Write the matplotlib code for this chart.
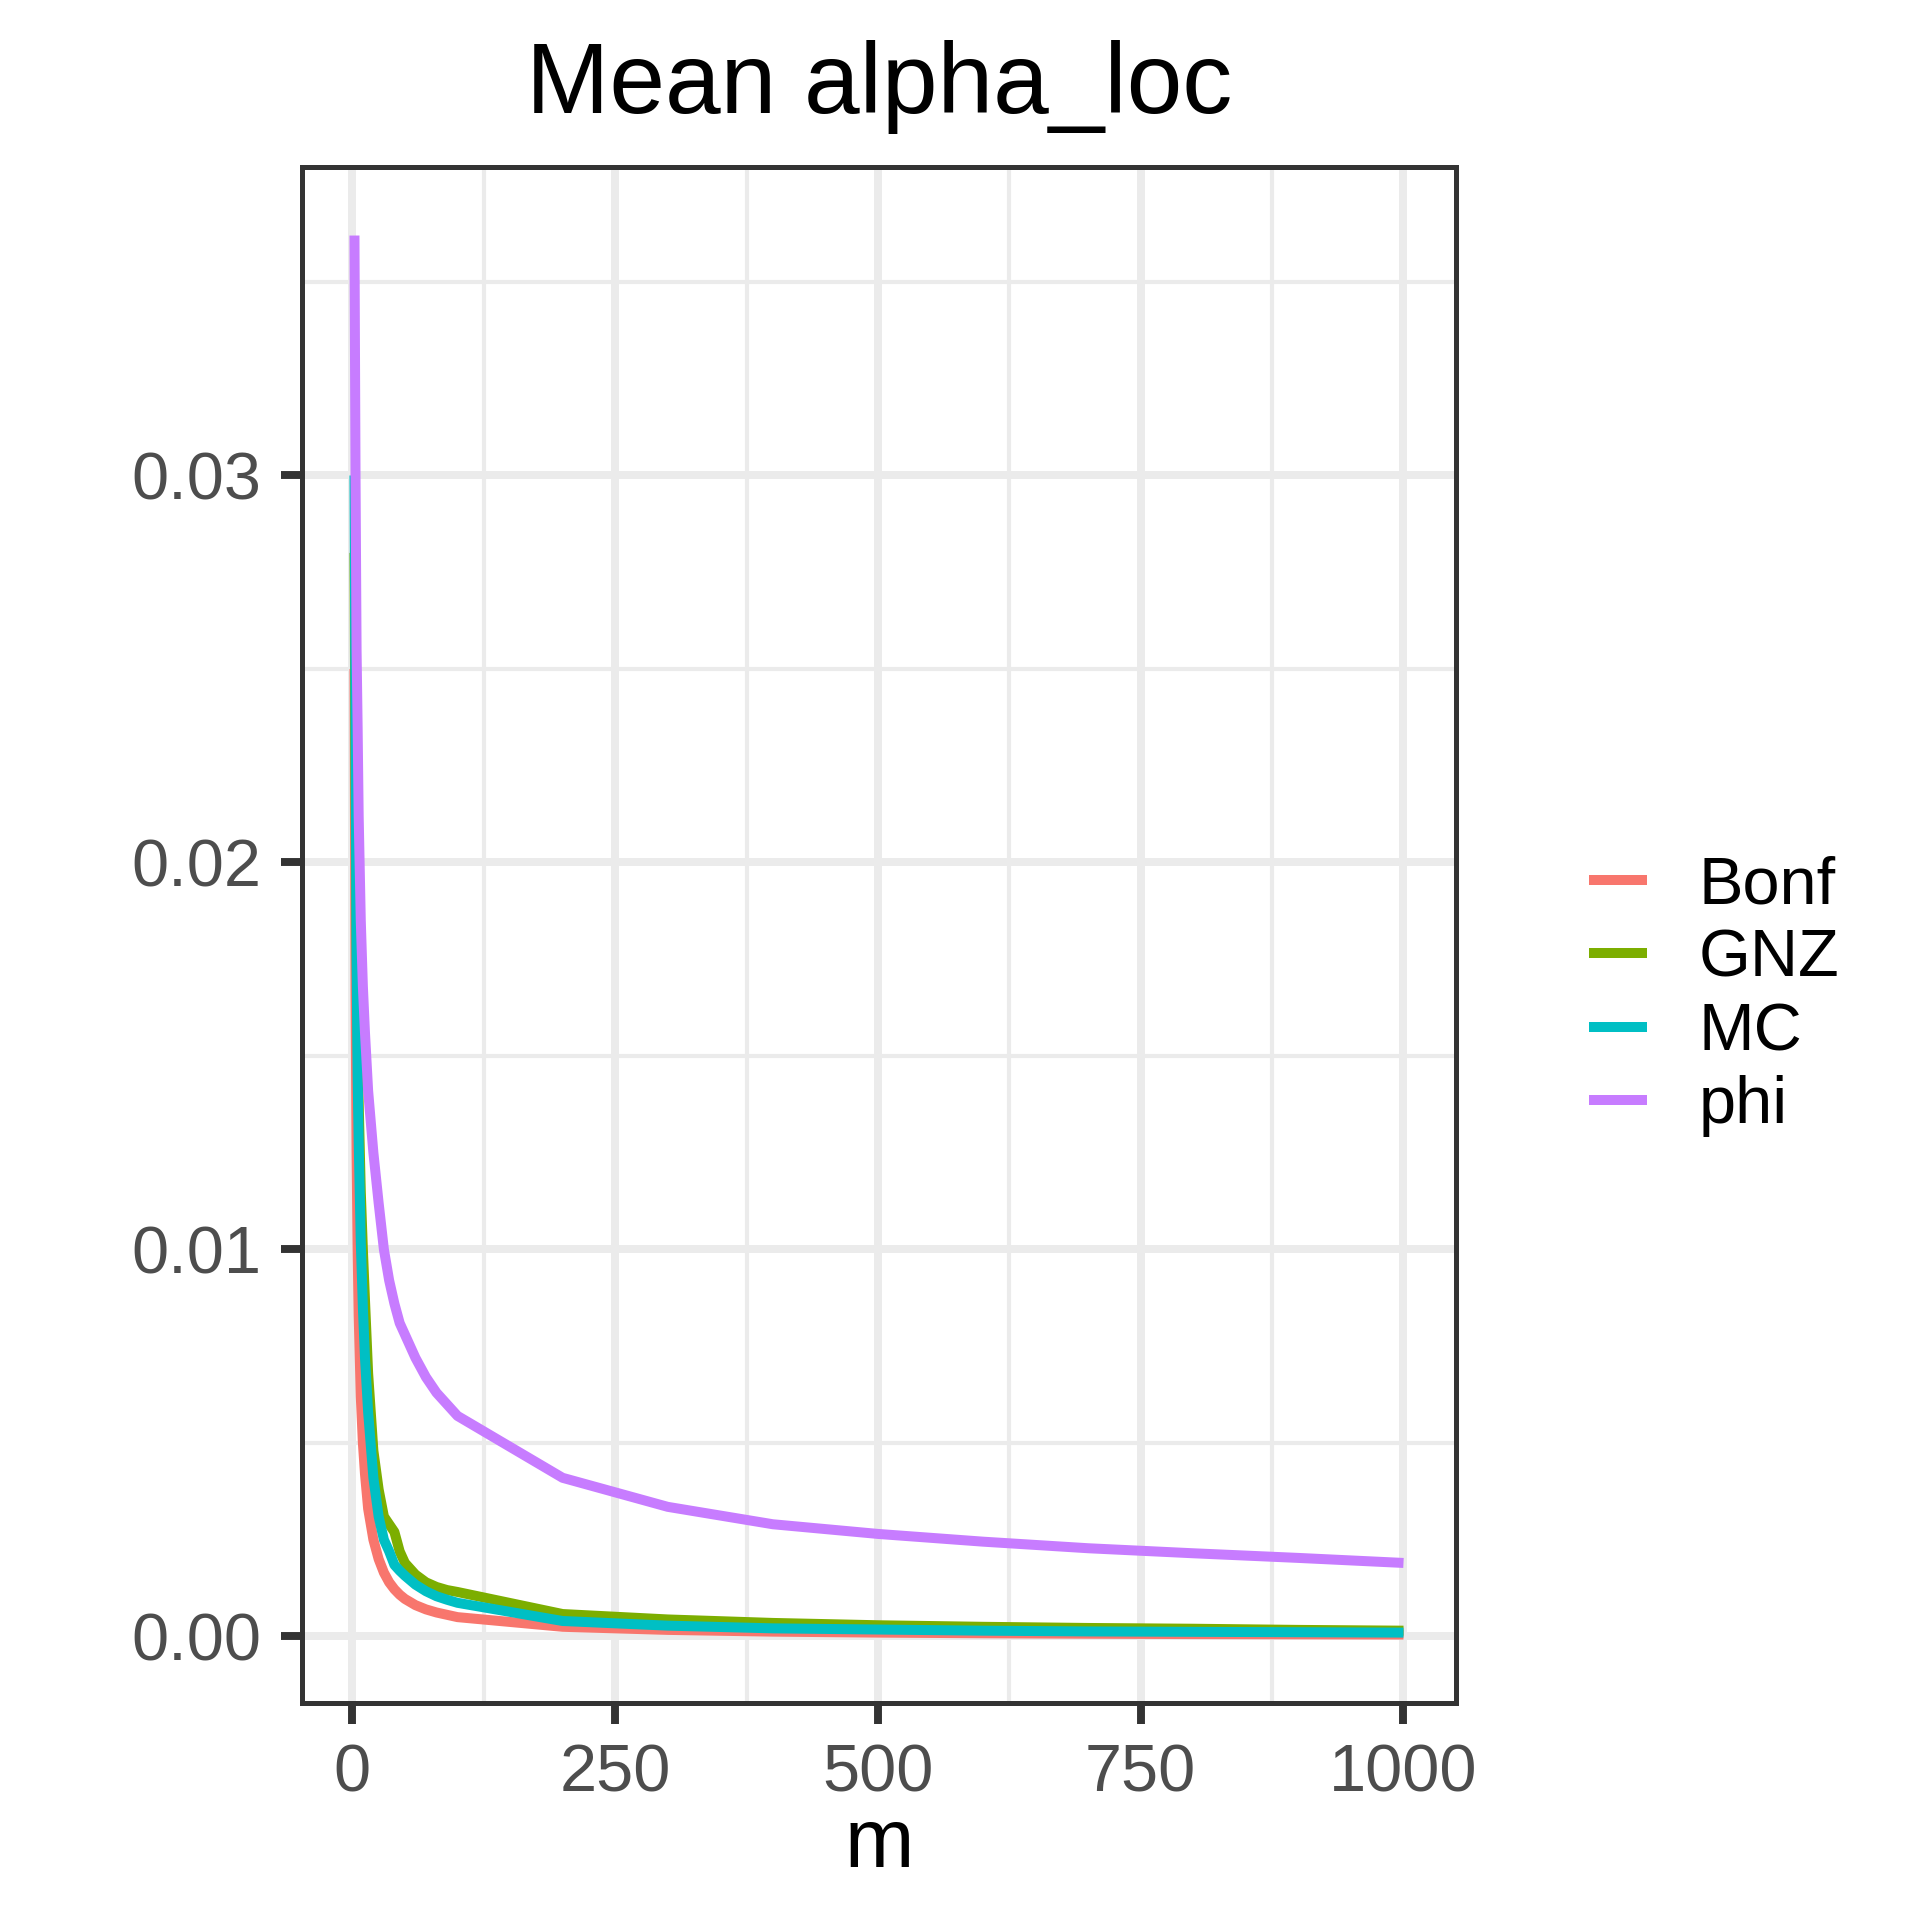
import numpy as np
import matplotlib
matplotlib.use("Agg")
import matplotlib.pyplot as plt
from matplotlib.ticker import FixedLocator, FormatStrFormatter

plt.rcParams['font.family'] = ['Liberation Sans', 'DejaVu Sans']

# number of tests
m = [2, 3, 4, 5, 6, 8, 10, 12, 15, 20, 25, 30, 35, 40, 45, 50, 60, 70, 80, 90, 100,
     200, 300, 400, 500, 600, 700, 800, 900, 1000]

# mean local alpha per method
bonf = [0.0250, 0.0167, 0.0125, 0.0100, 0.0083, 0.0062, 0.0050, 0.0042, 0.0033, 0.0025,
        0.0020, 0.00165, 0.00140, 0.00122, 0.00108, 0.00097, 0.00081, 0.00070, 0.00062, 0.00056,
        0.00050, 0.00025, 0.00017, 0.000125, 0.00010, 0.000083, 0.000071, 0.000062, 0.000056, 0.00005]
gnz = [0.0280, 0.0220, 0.0180, 0.0155, 0.0138, 0.0115, 0.0100, 0.0087, 0.0068, 0.0048,
       0.0038, 0.0031, 0.0029, 0.0027, 0.0022, 0.0019, 0.0016, 0.0014, 0.00128, 0.0012,
       0.00115, 0.00058, 0.00044, 0.00035, 0.00029, 0.00025, 0.00022, 0.00020, 0.00017, 0.00015]
mc = [0.0300, 0.0240, 0.0175, 0.0145, 0.0128, 0.0102, 0.0085, 0.0072, 0.0058, 0.0041,
      0.0031, 0.0025, 0.0022, 0.00185, 0.0017, 0.00157, 0.00134, 0.00117, 0.00104, 0.00095,
      0.00087, 0.00040, 0.00028, 0.00021, 0.00018, 0.00015, 0.00013, 0.00012, 0.00011, 0.00010]
phi = [0.0362, 0.0300, 0.0255, 0.0235, 0.0212, 0.0185, 0.0168, 0.0156, 0.0141, 0.0125,
       0.0112, 0.0100, 0.0092, 0.0086, 0.0081, 0.0078, 0.0072, 0.0067, 0.0063, 0.0060,
       0.0057, 0.0041, 0.00335, 0.0029, 0.00265, 0.00245, 0.00228, 0.00215, 0.00203, 0.0019]

labels = ["Bonf", "GNZ", "MC", "phi"]
colors = ["#F8766D", "#7CAE00", "#00BFC4", "#C77CFF"]

fig = plt.figure(figsize=(6.4, 6.4), dpi=300)
ax = fig.add_axes([0.1573, 0.1130, 0.6010, 0.8000])

for vals, lab, col in zip([bonf, gnz, mc, phi], labels, colors):
    ax.plot(m, vals, color=col, lw=2.4, label=lab, solid_capstyle='butt', zorder=3)

ax.set_xlim(-47.9, 1049.9)
ax.set_ylim(-0.00172, 0.03797)

ax.xaxis.set_major_locator(FixedLocator([0, 250, 500, 750, 1000]))
ax.xaxis.set_minor_locator(FixedLocator([125, 375, 625, 875]))
ax.yaxis.set_major_locator(FixedLocator([0, 0.01, 0.02, 0.03]))
ax.yaxis.set_minor_locator(FixedLocator([0.005, 0.015, 0.025, 0.035]))
ax.yaxis.set_major_formatter(FormatStrFormatter('%.2f'))

ax.grid(True, which='major', color='#EBEBEB', lw=1.9, zorder=0)
ax.grid(True, which='minor', color='#EBEBEB', lw=1.0, zorder=0)
ax.set_axisbelow(True)

for s in ax.spines.values():
    s.set_color('#333333')
    s.set_linewidth(1.2)

ax.tick_params(which='major', length=5.1, width=1.9, color='#333333', pad=4.6,
               labelsize=16, labelcolor='#4D4D4D')
ax.tick_params(which='minor', length=0)

ax.set_xlabel("m", fontsize=20, labelpad=0.2)
ax.set_title("Mean alpha_loc", fontsize=24, pad=13)

leg = ax.legend(loc='center left', bbox_to_anchor=(0.8276, 0.481), bbox_transform=fig.transFigure,
                frameon=False, fontsize=16, handlelength=0.87, handletextpad=0.78,
                labelspacing=0.17, borderpad=0, borderaxespad=0)
for h in leg.get_lines():
    h.set_linewidth(2.4)

fig.savefig("out.png", dpi=300)
